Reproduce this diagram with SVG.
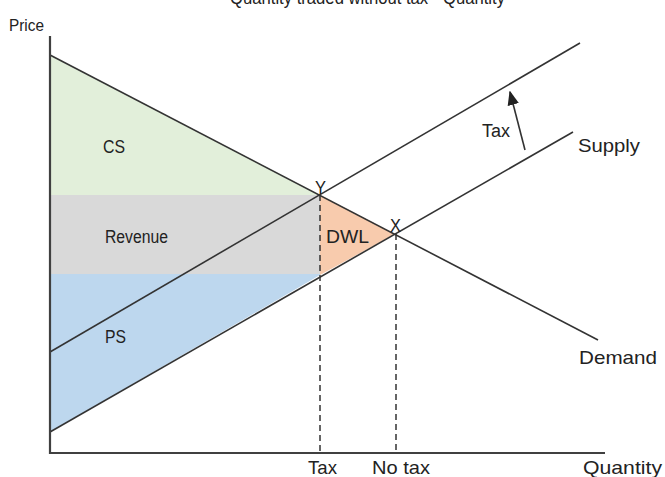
<svg xmlns="http://www.w3.org/2000/svg" width="665" height="477" viewBox="0 0 665 477">
<defs>
<style>
text{font-family:"Liberation Sans","DejaVu Sans",sans-serif;font-size:19px;fill:#222}
.s{font-size:18px}
.ln{stroke:#333;stroke-width:1.6;fill:none}
.ax{stroke:#404040;stroke-width:2.2;fill:none}
.dash{stroke:#333;stroke-width:1.5;stroke-dasharray:6,4;fill:none}
</style>
<marker id="ah" viewBox="0 0 10 10" refX="9" refY="5" markerWidth="9" markerHeight="9" orient="auto"><path d="M0,1 L10,5 L0,9 z" fill="#222"/></marker>
</defs>
<rect width="665" height="477" fill="#fff"/>
<g id="areas">
<polygon id="cs" points="50,55 320,195 50,195" fill="#e2efda"/>
<rect id="revenue" x="50" y="195" width="270" height="79" fill="#d9d9d9"/>
<polygon id="ps" points="50,274 320,274 320,275 50,432" fill="#bdd7ee"/>
<polygon id="dwl" points="320,195 395,234 320,275" fill="#f8cbad"/>
</g>
<g id="connectors">
<line class="ln" x1="50" y1="55" x2="598" y2="340"/>
<line class="ln" x1="50" y1="352" x2="580" y2="43"/>
<line class="ln" x1="50" y1="432" x2="573" y2="132"/>
<line class="dash" x1="320" y1="195" x2="320" y2="453"/>
<line class="dash" x1="396" y1="234" x2="396" y2="453"/>
<line class="ln" x1="525" y1="150" x2="510" y2="92" marker-end="url(#ah)"/>
<polyline class="ax" points="50,36 50,453 605,453"/>
</g>
<g id="labels">
<text x="230" y="4" textLength="275" lengthAdjust="spacingAndGlyphs">Quantity traded without tax - Quantity</text>
<text x="9" y="31" style="font-size:17px" textLength="35" lengthAdjust="spacingAndGlyphs">Price</text>
<text class="s" x="103" y="153" textLength="22" lengthAdjust="spacingAndGlyphs">CS</text>
<text class="s" x="105" y="243" textLength="63" lengthAdjust="spacingAndGlyphs">Revenue</text>
<text x="326" y="243" textLength="43" lengthAdjust="spacingAndGlyphs">DWL</text>
<text class="s" x="105" y="343" textLength="21" lengthAdjust="spacingAndGlyphs">PS</text>
<text class="s" x="315" y="194" textLength="11" lengthAdjust="spacingAndGlyphs">Y</text>
<text class="s" x="390" y="232" textLength="11" lengthAdjust="spacingAndGlyphs">X</text>
<text class="s" x="482" y="137" textLength="28" lengthAdjust="spacingAndGlyphs">Tax</text>
<text x="578" y="152" textLength="62" lengthAdjust="spacingAndGlyphs">Supply</text>
<text x="579" y="364" textLength="78" lengthAdjust="spacingAndGlyphs">Demand</text>
<text x="308" y="474" textLength="29" lengthAdjust="spacingAndGlyphs">Tax</text>
<text x="372" y="474" textLength="58" lengthAdjust="spacingAndGlyphs">No tax</text>
<text x="583" y="474" textLength="79" lengthAdjust="spacingAndGlyphs">Quantity</text>
</g>
</svg>
